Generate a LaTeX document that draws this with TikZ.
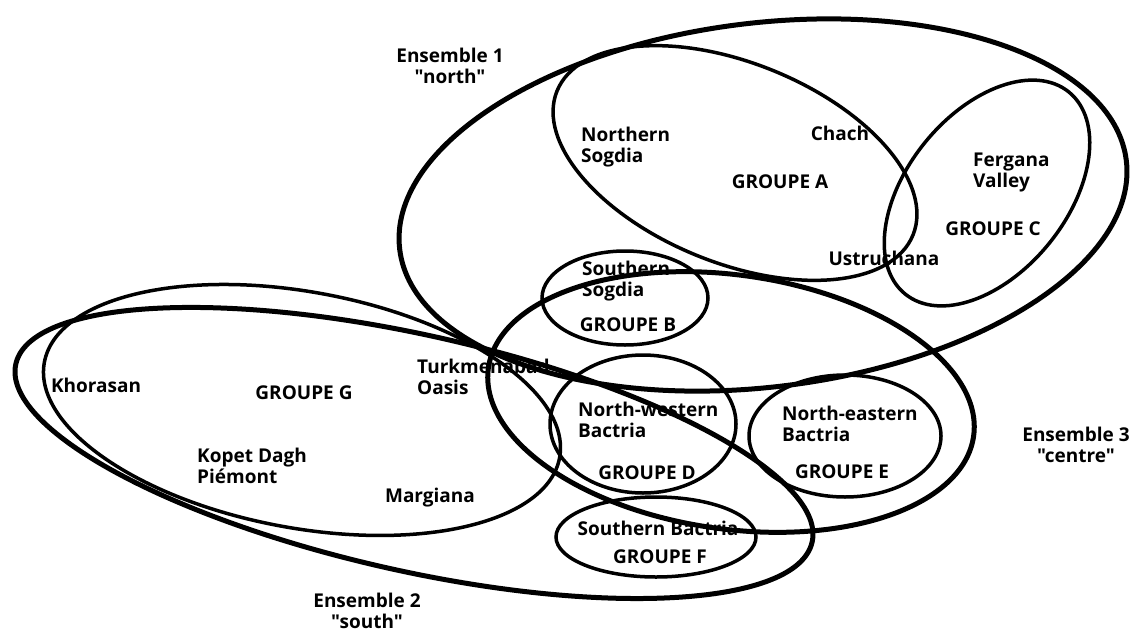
\documentclass[tikz,border=0pt]{standalone}
\usepackage{fontspec}
\setmainfont{Open Sans}[Ligatures=TeXOff]

\begin{document}
\begin{tikzpicture}
        [
          x=1pt, y=-1pt,
          ens/.style={line width=5pt},
          grp/.style={line width=3.5pt},
          place/.style={font=\bfseries\fontsize{19}{21}\selectfont, inner sep=0pt},
          multi/.style={place, align=left, anchor=west},
          ensname/.style={place, align=center}
        ]
        \useasboundingbox (0,0) rectangle (1135,632);
        \fill[white] (0,0) rectangle (1135,632);
        % centres
        \coordinate (e1) at (763,205);
        \coordinate (e2) at (414,453);
        \coordinate (e3) at (731,402);
        \coordinate (ga) at (735,163);
        \coordinate (gb) at (625,298);
        \coordinate (gc) at (987,193);
        \coordinate (gd) at (643,424);
        \coordinate (ge) at (845,436);
        \coordinate (gf) at (656,537);
        \coordinate (gg) at (302,410);
        % ensembles
        \draw[ens, rotate around={7:(e1)}] (e1) ellipse (366 and 182);
        \draw[ens, rotate around={-12.6:(e2)}] (e2) ellipse (408 and 118);
        \draw[ens, rotate around={-8:(e3)}] (e3) ellipse (245 and 127);
        % groupes
        \draw[grp, rotate around={-22:(ga)}] (ga) ellipse (192 and 100);
        \draw[grp] (gb) ellipse (83 and 47);
        \draw[grp, rotate around={51:(gc)}] (gc) ellipse (130 and 80);
        \draw[grp] (gd) ellipse (93 and 69);
        \draw[grp] (ge) ellipse (96 and 61);
        \draw[grp] (gf) ellipse (100 and 40);
        \draw[grp, rotate around={-10.5:(gg)}] (gg) ellipse (262 and 118);
        % ensemble labels
        \node [ensname] (ens1) at (450,66) {Ensemble 1\\"north"};
        \node [ensname] (ens2) at (367,611) {Ensemble 2\\"south"};
        \node [ensname] (ens3) at (1076,445) {Ensemble 3\\"centre"};
        % group A
        \node [multi] (nsog) at (581,147) {Northern\\Sogdia};
        \node [place] (chach) at (840,133) {Chach};
        \node [place] (grA) at (780,182) {GROUPE A};
        \node [place] (ustr) at (884,258) {Ustruchana};
        % group C
        \node [multi] (ferg) at (973,172) {Fergana\\Valley};
        \node [place] (grC) at (993,229) {GROUPE C};
        % group B
        \node [multi] (ssog) at (582,281) {Southern\\Sogdia};
        \node [place] (grB) at (628,325) {GROUPE B};
        % group G
        \node [place] (khor) at (96,385) {Khorasan};
        \node [place] (grG) at (304,393) {GROUPE G};
        \node [multi] (turk) at (417,377) {Turkmenabad\\Oasis};
        \node [multi] (kop) at (197,466) {Kopet Dagh\\Piémont};
        \node [place] (marg) at (430,498) {Margiana};
        % groups D, E, F
        \node [multi] (nwb) at (578,420) {North-western\\Bactria};
        \node [place] (grD) at (647,473) {GROUPE D};
        \node [multi] (neb) at (782,424) {North-eastern\\Bactria};
        \node [place] (grE) at (842,472) {GROUPE E};
        \node [place] (sbac) at (658,528) {Southern Bactria};
        \node [place] (grF) at (660,557) {GROUPE F};
\end{tikzpicture}
\end{document}
